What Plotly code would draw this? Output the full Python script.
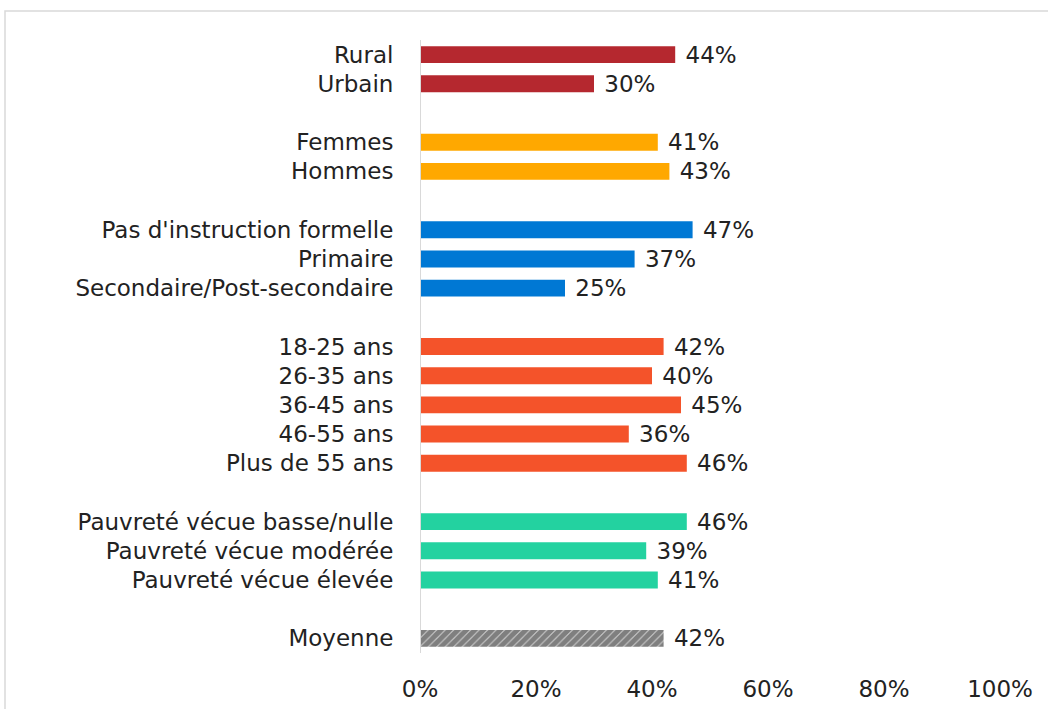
import plotly.graph_objects as go

groups = [
    ["Rural", "Urbain"],
    ["Femmes", "Hommes"],
    ["Pas d'instruction formelle", "Primaire", "Secondaire/Post-secondaire"],
    ["18-25 ans", "26-35 ans", "36-45 ans", "46-55 ans", "Plus de 55 ans"],
    ["Pauvreté vécue basse/nulle", "Pauvreté vécue modérée", "Pauvreté vécue élevée"],
    ["Moyenne"],
]
values = [
    [0.44, 0.30],
    [0.41, 0.43],
    [0.47, 0.37, 0.25],
    [0.42, 0.40, 0.45, 0.36, 0.46],
    [0.46, 0.39, 0.41],
    [0.42],
]
colors = ["#B5282F", "#FFA800", "#0078D4", "#F4532A", "#23D2A0", "#000000"]
x_ticks = [0, 0.2, 0.4, 0.6, 0.8, 1.0]
x_labels = ["0%", "20%", "40%", "60%", "80%", "100%"]

FONT = "DejaVu Sans"
FS = 23
TXT = "#222222"
W = 400
fig = go.Figure()
pos = 0
tickvals, ticktext = [], []
for gi, (cats, vals) in enumerate(zip(groups, values)):
    ys = list(range(pos, pos + len(cats)))
    tickvals += ys
    ticktext += cats
    is_avg = cats == ["Moyenne"]
    marker = dict(color=colors[gi], line=dict(width=0))
    if is_avg:
        marker = dict(color="white",
                      pattern=dict(shape="/", fgcolor="black", bgcolor="white",
                                   size=6, solidity=0.9),
                      line=dict(width=0))
    fig.add_trace(go.Bar(
        y=ys, x=vals, orientation="h", width=0.58, marker=marker,
        text=[f" {round(v*100)}%" for v in vals], textposition="outside",
        constraintext="none",
        textfont=dict(family=FONT, size=FS, color=TXT, weight=W),
        cliponaxis=False, showlegend=False, hoverinfo="skip",
    ))
    pos += len(cats) + 1

nrows = pos - 1
fig.update_layout(
    width=1048, height=709,
    margin=dict(l=420, r=48, t=40, b=56),
    plot_bgcolor="white", paper_bgcolor="white",
    font=dict(family=FONT, size=FS, color=TXT, weight=W),
    xaxis=dict(range=[0, 1], tickvals=x_ticks, ticktext=x_labels, showgrid=False,
               zeroline=False, showline=False, ticks="outside", ticklen=15,
               tickcolor="rgba(0,0,0,0)", automargin=False,
               tickfont=dict(size=FS, family=FONT, weight=W)),
    yaxis=dict(range=[nrows - 0.5, -0.5], tickvals=tickvals, ticktext=ticktext,
               showgrid=False, zeroline=False, showline=False, ticks="outside",
               ticklen=21, tickcolor="rgba(0,0,0,0)", automargin=False,
               tickfont=dict(size=FS, family=FONT, weight=W)),
    shapes=[
        dict(type="line", xref="x", yref="paper", x0=0, x1=0, y0=0, y1=1,
             line=dict(color="#D9D9D9", width=2)),
        dict(type="rect", xref="paper", yref="paper",
             x0=(5 - 420) / 580, x1=2, y0=-1, y1=(653 - 11) / 613,
             line=dict(color="#D9D9D9", width=1.5), fillcolor="rgba(0,0,0,0)",
             layer="below"),
    ],
)
fig.write_html("out.html", config={"displayModeBar": False},
               post_script="document.body.style.margin='0';document.body.style.padding='0';")
